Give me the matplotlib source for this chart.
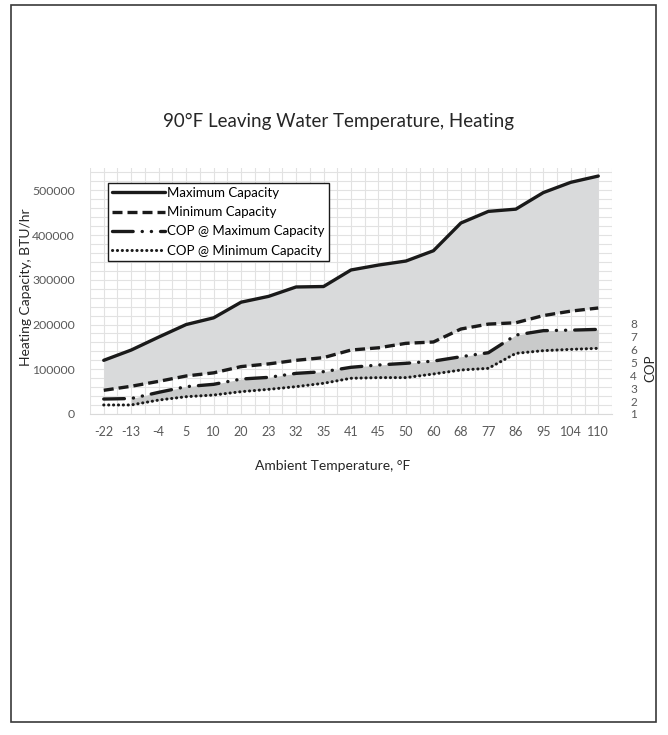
import numpy as np
import matplotlib.pyplot as plt
from matplotlib.patches import Rectangle

plt.rcParams['font.family'] = ['Lato', 'DejaVu Sans']

# data
temps = ['-22', '-13', '-4', '5', '10', '20', '23', '32', '35', '41', '45',
         '50', '60', '68', '77', '86', '95', '104', '110']
maxcap = [120000, 143000, 172000, 200000, 215000, 250000, 263000, 284000, 285000,
          322000, 333000, 342000, 365000, 427000, 453000, 458000, 495000, 518000, 532000]
mincap = [53000, 62000, 73000, 85000, 92000, 106000, 112000, 120000, 126000,
          143000, 148000, 158000, 161000, 190000, 201000, 204000, 220000, 230000, 237000]
copmax = [2.16, 2.2, 2.68, 3.12, 3.3, 3.71, 3.84, 4.15, 4.28, 4.62, 4.8,
          4.93, 5.1, 5.44, 5.75, 7.12, 7.46, 7.5, 7.56]
copmin = [1.7, 1.7, 2.08, 2.34, 2.47, 2.73, 2.91, 3.12, 3.38, 3.77, 3.82,
          3.82, 4.1, 4.41, 4.54, 5.7, 5.91, 6.01, 6.09]

x = np.arange(len(temps))
txtcol = '#595959'

fig = plt.figure(figsize=(6.68, 7.35), dpi=100)
ax = fig.add_axes([90/668, 1-414/735, 522/668, 246/735])
ax2 = ax.twinx()

# fills
ax.fill_between(x, mincap, maxcap, color='#d9dadb', lw=0, zorder=1)
ax2.fill_between(x[1:], copmin[1:], copmax[1:], color='#c9caca', lw=0, zorder=1)

# lines
l1, = ax.plot(x, maxcap, color='#1a1a1a', lw=2.4, solid_capstyle='round', zorder=3,
              label='Maximum Capacity')
l2, = ax.plot(x, mincap, color='#1a1a1a', lw=2.4, dashes=(3, 1.5), zorder=3,
              label='Minimum Capacity')
l3, = ax2.plot(x, copmax, color='#1a1a1a', lw=2.4, dashes=(6.2, 2.7, 0.05, 2.7, 0.05, 2.7),
               dash_capstyle='round', zorder=3, label='COP @ Maximum Capacity')
l4, = ax2.plot(x, copmin, color='#1a1a1a', lw=2.2, dashes=(0.05, 1.55),
               dash_capstyle='round', zorder=3, label='COP @ Minimum Capacity')

ax.set_xlim(-0.5, len(temps)-0.5)
ax.set_ylim(0, 550000)
ax2.set_ylim(1, 1+246/12.9)

# grid
ax.set_xticks(np.arange(-0.5, len(temps), 0.5), minor=True)
ax.set_yticks(np.arange(0, 550001, 20000), minor=True)
ax.grid(True, which='both', color='#e2e2e2', lw=0.8, zorder=0)
ax.set_axisbelow(True)
ax.tick_params(which='both', length=0)

ax.set_xticks(x)
ax.set_xticklabels(temps, fontsize=9, color=txtcol)
ax.set_yticks(np.arange(0, 500001, 100000))
ax.set_yticklabels([str(v) for v in range(0, 500001, 100000)], fontsize=8.8, color=txtcol)
ax.tick_params(axis='x', pad=9)
ax.tick_params(axis='y', pad=11)

ax2.set_yticks(range(1, 9))
ax2.set_yticklabels([str(i) for i in range(1, 9)], fontsize=8.5, color=txtcol)
ax2.tick_params(length=0, pad=13)
ax2.set_ylabel('COP', fontsize=9.5, color='#262626')
ax2.yaxis.set_label_coords(1.062, 0.185)

for a in (ax, ax2):
    for s in a.spines.values():
        s.set_visible(False)
ax.spines['bottom'].set_visible(True)
ax.spines['bottom'].set_color('#d9d9d9')

leg = ax.legend(handles=[l1, l2, l3, l4], loc='upper left',
                bbox_to_anchor=(18/522, 1-15/246), fontsize=9.5, frameon=True,
                fancybox=False, edgecolor='#1a1a1a', framealpha=1,
                handlelength=4.0, handletextpad=0.2, labelspacing=0.55,
                borderpad=0.3, borderaxespad=0)
leg.get_frame().set_linewidth(1.0)
leg.set_zorder(10)

fig.text(338/668, 1-121/735, '90°F Leaving Water Temperature, Heating',
         ha='center', va='center', fontsize=13.5, color='#262626')
fig.text(333/668, 1-466/735, 'Ambient Temperature, °F',
         ha='center', va='center', fontsize=10, color='#262626')
fig.text(26/668, 1-287/735, 'Heating Capacity, BTU/hr', rotation=90,
         ha='center', va='center', fontsize=10, color='#262626')

fig.patches.append(Rectangle((11/668, 1-722/735), 645/668, 717/735,
                             transform=fig.transFigure, fill=False,
                             edgecolor='#3a3a3a', lw=1.2))

fig.savefig('out.png', dpi=100)
